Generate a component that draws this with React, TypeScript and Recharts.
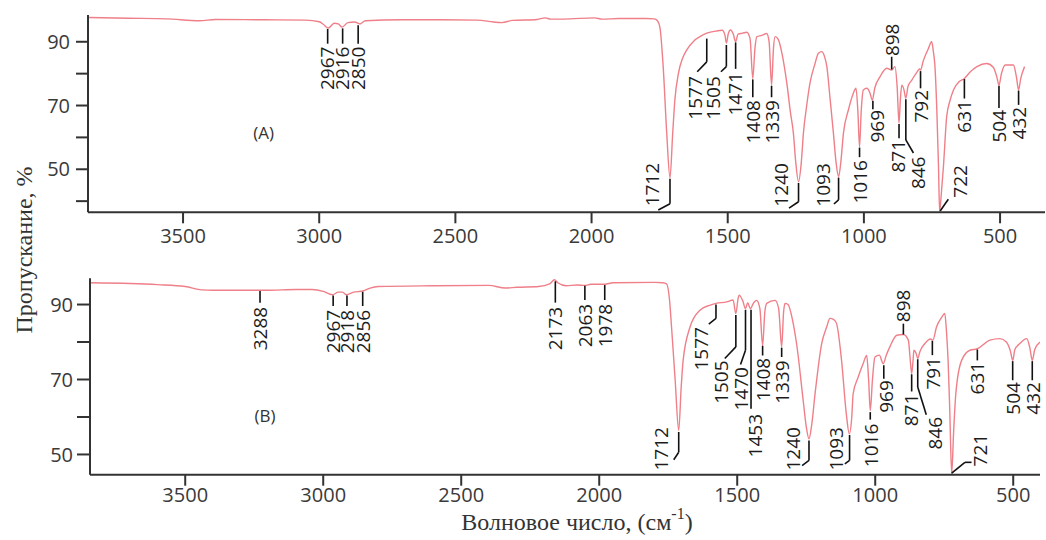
import React from 'react';
import { LineChart, Line, XAxis, YAxis, ReferenceLine, ReferenceDot } from 'recharts';

type Pt = [number, number];

// ---------- axis ticks ----------
const wavenumberTicks = [3500, 3000, 2500, 2000, 1500, 1000, 500];
const ticksA = [40, 50, 60, 70, 80, 90];
const ticksB = [50, 60, 70, 80, 90];
const labeledTicks = [50, 70, 90];

// ---------- spectrum (A): [wavenumber, transmittance %] ----------
const spectrumA: Pt[] = [
  [3845, 97.6], [3700, 97.4], [3560, 97.2], [3440, 96.6], [3380, 97.0], [3200, 96.9],
  [3050, 96.8], [3000, 96.3], [2985, 95.5], [2967, 94.3], [2945, 95.8], [2930, 95.6],
  [2916, 94.6], [2895, 96.0], [2870, 96.2], [2850, 95.6], [2830, 96.6], [2700, 96.9],
  [2550, 96.9], [2420, 96.8], [2360, 96.2], [2330, 96.0], [2290, 96.7], [2200, 97.0],
  [2170, 97.5], [2150, 97.1], [2080, 97.2], [1990, 97.5], [1960, 97.1], [1900, 97.3],
  [1800, 97.3], [1770, 97.2], [1758, 96.6], [1749, 94.5], [1737, 82.2], [1724, 61.4],
  [1712, 47.3], [1702, 61.4], [1694, 71.8], [1681, 80.1], [1665, 85.0], [1651, 87.4],
  [1625, 90.2], [1602, 91.6], [1577, 92.7], [1540, 93.4], [1520, 93.6], [1510, 92.0],
  [1505, 89.6], [1498, 92.5], [1490, 93.7], [1480, 92.5], [1471, 90.0], [1462, 92.4],
  [1445, 92.7], [1430, 93.0], [1418, 91.0], [1408, 78.5], [1400, 88.0], [1393, 91.6],
  [1375, 92.0], [1357, 92.6], [1348, 90.0], [1339, 76.4], [1332, 88.0], [1326, 91.6],
  [1315, 90.8], [1300, 86.0], [1283, 77.0], [1270, 68.0], [1259, 61.4], [1250, 52.0],
  [1240, 46.1], [1230, 52.0], [1222, 61.4], [1210, 70.0], [1198, 77.0], [1180, 83.0],
  [1167, 86.4], [1155, 86.9], [1145, 85.5], [1136, 82.2], [1124, 72.0], [1112, 61.4],
  [1102, 52.0], [1093, 47.7], [1085, 52.0], [1075, 61.4], [1057, 68.6], [1039, 73.8],
  [1029, 75.4], [1022, 68.0], [1016, 57.0], [1010, 68.0], [1002, 74.9], [989, 75.4],
  [978, 74.0], [969, 71.7], [960, 75.5], [941, 79.0], [916, 81.7], [898, 81.1],
  [886, 82.2], [878, 76.0], [871, 64.5], [866, 72.0], [861, 76.4], [853, 75.0],
  [846, 72.3], [838, 76.0], [824, 78.0], [805, 80.5], [795, 81.5], [792, 81.1],
  [782, 84.0], [765, 87.5], [751, 90.0], [745, 87.0], [739, 82.2], [732, 68.0],
  [726, 50.8], [722, 36.7], [716, 42.0], [708, 50.8], [696, 66.5], [684, 71.5],
  [671, 74.9], [650, 77.5], [631, 78.5], [610, 80.5], [585, 82.2], [549, 83.2],
  [525, 82.0], [512, 79.0], [504, 76.4], [495, 80.0], [481, 82.7], [451, 82.7],
  [440, 79.0], [432, 74.9], [424, 78.5], [410, 82.2],
];

// ---------- spectrum (B) ----------
const spectrumB: Pt[] = [
  [3845, 95.8], [3700, 95.6], [3600, 95.3], [3500, 94.8], [3440, 93.9], [3400, 93.8],
  [3300, 93.8], [3200, 93.8], [3100, 94.0], [3040, 94.0], [3000, 93.5], [2967, 92.6],
  [2945, 93.3], [2930, 93.3], [2916, 92.6], [2890, 93.3], [2856, 93.6], [2830, 94.4],
  [2800, 94.8], [2600, 95.0], [2400, 95.1], [2340, 94.4], [2300, 94.6], [2220, 94.8],
  [2180, 95.5], [2162, 96.6], [2150, 95.8], [2120, 95.0], [2080, 95.2], [2052, 95.1],
  [2030, 95.4], [1980, 95.4], [1950, 95.8], [1800, 95.9], [1770, 95.8], [1756, 95.5],
  [1745, 91.0], [1738, 84.0], [1725, 70.0], [1712, 56.4], [1703, 68.0], [1696, 75.1],
  [1671, 84.0], [1635, 88.5], [1600, 89.8], [1577, 90.3], [1538, 90.7], [1515, 91.2],
  [1505, 87.6], [1497, 91.5], [1493, 92.5], [1480, 91.0], [1470, 88.9], [1462, 90.5],
  [1453, 88.9], [1440, 90.5], [1430, 91.1], [1418, 89.0], [1408, 79.1], [1400, 88.0],
  [1393, 90.3], [1363, 91.1], [1350, 89.0], [1339, 78.7], [1332, 88.0], [1327, 90.3],
  [1316, 90.0], [1300, 86.0], [1285, 79.6], [1261, 64.4], [1250, 57.5], [1240, 54.2],
  [1230, 58.0], [1218, 66.2], [1194, 79.6], [1176, 84.0], [1164, 86.3], [1150, 86.0],
  [1140, 84.9], [1122, 75.1], [1105, 61.0], [1094, 55.5], [1085, 60.0], [1080, 66.2],
  [1062, 70.6], [1044, 74.2], [1031, 76.4], [1024, 70.0], [1018, 61.7], [1010, 70.0],
  [1001, 76.0], [985, 76.5], [971, 74.2], [960, 76.5], [947, 78.7], [922, 81.8],
  [898, 82.0], [880, 80.5], [874, 76.0], [868, 71.6], [863, 75.0], [860, 77.8],
  [852, 77.0], [846, 75.6], [838, 77.5], [820, 79.6], [800, 80.8], [791, 80.5],
  [778, 84.0], [760, 86.5], [748, 87.6], [742, 83.0], [736, 75.1], [730, 62.0],
  [723, 44.8], [716, 56.0], [708, 66.2], [687, 75.1], [657, 77.8], [630, 78.2],
  [584, 80.5], [548, 80.9], [525, 80.0], [510, 77.5], [502, 75.1], [494, 78.0],
  [476, 79.6], [451, 80.9], [440, 78.5], [431, 75.1], [422, 78.0], [403, 80.0],
];

// ---------- peak annotations: text anchor (tx, ty) and leader path, in data units ----------
interface Ann { label: string; tx: number; ty: number; above?: boolean; path: Pt[] }

const peaksA: Ann[] = [
  { label: '2967', tx: 2969, ty: 88.5, path: [[2969, 94.0], [2969, 89.4]] },
  { label: '2916', tx: 2914, ty: 88.5, path: [[2914, 94.2], [2914, 89.4]] },
  { label: '2850', tx: 2857, ty: 88.5, path: [[2857, 95.2], [2857, 89.4]] },
  { label: '1712', tx: 1779, ty: 52.0, path: [[1712, 47.0], [1712, 39.2], [1755, 37.2]] },
  { label: '1577', tx: 1620, ty: 79.2, path: [[1577, 91.0], [1577, 83.7], [1612, 80.6]] },
  { label: '1505', tx: 1553, ty: 79.2, path: [[1505, 89.0], [1505, 82.2], [1525, 80.6]] },
  { label: '1471', tx: 1473, ty: 80.5, path: [[1471, 89.8], [1471, 81.5]] },
  { label: '1408', tx: 1408, ty: 71.7, path: [[1408, 78.2], [1408, 72.6]] },
  { label: '1339', tx: 1338, ty: 71.7, path: [[1339, 76.2], [1339, 72.6]] },
  { label: '1240', tx: 1302, ty: 51.9, path: [[1240, 45.7], [1240, 39.8], [1275, 37.8]] },
  { label: '1093', tx: 1151, ty: 51.9, path: [[1093, 47.4], [1093, 40.4], [1110, 39.1]] },
  { label: '1016', tx: 1014, ty: 52.9, path: [[1016, 56.8], [1016, 53.8]] },
  { label: '969', tx: 950, ty: 68.6, path: [[967, 71.5], [967, 68.8]] },
  { label: '898', tx: 898, ty: 85.5, above: true, path: [[898, 81.3], [898, 85.3]] },
  { label: '871', tx: 875, ty: 59.2, path: [[871, 64.2], [871, 59.7]] },
  { label: '846', tx: 800, ty: 54.0, path: [[846, 72.0], [846, 59.2], [818, 55.1]] },
  { label: '792', tx: 788, ty: 74.9, path: [[792, 80.8], [792, 75.4]] },
  { label: '722', tx: 648, ty: 51.3, path: [[720, 36.9], [690, 40.6]] },
  { label: '631', tx: 631, ty: 71.7, path: [[631, 78.3], [631, 72.2]] },
  { label: '504', tx: 502, ty: 68.6, path: [[504, 76.2], [504, 69.2]] },
  { label: '432', tx: 429, ty: 69.6, path: [[432, 74.7], [432, 70.2]] },
];

const peaksB: Ann[] = [
  { label: '3288', tx: 3229, ty: 89.4, path: [[3229, 93.6], [3229, 90.5]] },
  { label: '2967', tx: 2964, ty: 88.6, path: [[2964, 92.4], [2964, 89.6]] },
  { label: '2918', tx: 2914, ty: 88.6, path: [[2914, 92.4], [2914, 89.6]] },
  { label: '2856', tx: 2857, ty: 88.6, path: [[2857, 93.4], [2857, 89.6]] },
  { label: '2173', tx: 2159, ty: 89.4, path: [[2159, 96.2], [2159, 90.5]] },
  { label: '2063', tx: 2052, ty: 90.2, path: [[2052, 95.0], [2052, 91.2]] },
  { label: '1978', tx: 1980, ty: 90.2, path: [[1980, 95.2], [1980, 91.2]] },
  { label: '1712', tx: 1774, ty: 57.3, path: [[1712, 56.0], [1712, 50.6], [1730, 48.6]] },
  { label: '1577', tx: 1629, ty: 84.0, path: [[1577, 90.0], [1577, 86.3], [1603, 84.8]] },
  { label: '1505', tx: 1557, ty: 75.1, path: [[1505, 87.2], [1505, 78.7], [1545, 75.6]] },
  { label: '1470', tx: 1484, ty: 73.3, path: [[1470, 88.6], [1470, 77.8], [1488, 74.0]] },
  { label: '1453', tx: 1436, ty: 60.8, path: [[1450, 88.6], [1450, 62.2]] },
  { label: '1408', tx: 1406, ty: 75.8, path: [[1408, 79.0], [1408, 76.4]] },
  { label: '1339', tx: 1336, ty: 75.1, path: [[1339, 78.5], [1339, 76.0]] },
  { label: '1240', tx: 1297, ty: 57.3, path: [[1240, 53.7], [1240, 48.4], [1265, 47.0]] },
  { label: '1093', tx: 1140, ty: 57.3, path: [[1093, 55.2], [1093, 48.4], [1110, 47.5]] },
  { label: '1016', tx: 1013, ty: 58.2, path: [[1018, 61.3], [1018, 59.3]] },
  { label: '969', tx: 961, ty: 69.8, path: [[969, 73.8], [969, 70.2]] },
  { label: '898', tx: 899, ty: 85.3, above: true, path: [[898, 82.0], [898, 84.9]] },
  { label: '871', tx: 868, ty: 66.2, path: [[868, 71.4], [868, 66.8]] },
  { label: '846', tx: 784, ty: 60.0, path: [[846, 75.4], [846, 68.0], [815, 60.6]] },
  { label: '791', tx: 790, ty: 76.0, path: [[793, 80.3], [793, 76.5]] },
  { label: '721', tx: 621, ty: 55.5, path: [[723, 45.0], [675, 47.9], [651, 47.9]] },
  { label: '631', tx: 630, ty: 74.7, path: [[630, 78.0], [630, 75.1]] },
  { label: '504', tx: 502, ty: 69.3, path: [[502, 74.9], [502, 69.8]] },
  { label: '432', tx: 428, ty: 69.3, path: [[431, 74.9], [431, 69.8]] },
];

const panelTags = ['(A)', '(B)'];
const tagPosA: Pt = [3204, 61.4];
const tagPosB: Pt = [3211, 60.3];

const xTitle = 'Волновое число, (см';
const xTitleSup = '-1';
const yTitle = 'Пропускание, %';

// ---------- styles ----------
const AXIS = '#333333';
const LINE = '#ef7f88';
const SANS = "'Open Sans', 'DejaVu Sans', sans-serif";
const SERIF = "'Liberation Serif', 'DejaVu Serif', serif";

const makeRotLabel = (label: string, above?: boolean) => (props: any) => {
  const { cx, cy } = props;
  if (cx == null || cy == null) return <g />;
  return (
    <text
      x={cx}
      y={cy}
      transform={`rotate(-90 ${cx} ${cy})`}
      textAnchor={above ? 'start' : 'end'}
      dy="0.36em"
      fontSize={19}
      fontFamily={SANS}
      fill="#1c1c1c"
    >
      {label}
    </text>
  );
};

const makeTag = (label: string) => (props: any) => {
  const { cx, cy } = props;
  if (cx == null || cy == null) return <g />;
  return (
    <text x={cx} y={cy} textAnchor="middle" dy="0.35em" fontSize={17} fontFamily={SANS} fill="#333">
      {label}
    </text>
  );
};

interface PanelProps {
  data: Pt[];
  peaks: Ann[];
  xDomain: [number, number];
  yDomain: [number, number];
  yTicks: number[];
  tag: string;
  tagPos: Pt;
  top: number;
  height: number;
  margin: { top: number; right: number; left: number; bottom: number };
  yAxisWidth: number;
  xAxisHeight: number;
  xTickMargin: number;
  yTickSize: number;
  yTickMargin: number;
}

function Panel(p: PanelProps) {
  const rows = p.data.map(([w, t]) => ({ w, t }));
  const segs: React.ReactNode[] = [];
  p.peaks.forEach((a, i) => {
    for (let k = 0; k < a.path.length - 1; k++) {
      const [x1, y1] = a.path[k];
      const [x2, y2] = a.path[k + 1];
      segs.push(
        <ReferenceLine
          key={`s${i}-${k}`}
          segment={[{ x: x1, y: y1 }, { x: x2, y: y2 }]}
          stroke="#111"
          strokeWidth={1.6}
          ifOverflow="visible"
        />
      );
    }
  });
  const labels = p.peaks.map((a, i) => (
    <ReferenceDot
      key={`l${i}`}
      x={a.tx}
      y={a.ty}
      r={1}
      ifOverflow="visible"
      shape={makeRotLabel(a.label, a.above)}
    />
  ));
  return (
    <div style={{ position: 'absolute', left: 0, top: p.top }}>
      <LineChart width={1046} height={p.height} data={rows} margin={p.margin}>
        <XAxis
          dataKey="w"
          type="number"
          domain={p.xDomain}
          reversed
          allowDataOverflow
          ticks={wavenumberTicks}
          interval={0}
          height={p.xAxisHeight}
          tickSize={11}
          tickMargin={p.xTickMargin}
          axisLine={{ stroke: AXIS, strokeWidth: 2 }}
          tickLine={{ stroke: AXIS, strokeWidth: 2 }}
          tick={{ fill: '#3a3a3a', fontSize: 20, fontFamily: SANS }}
        />
        <YAxis
          type="number"
          domain={p.yDomain}
          allowDataOverflow
          ticks={p.yTicks}
          interval={0}
          width={p.yAxisWidth}
          tickSize={p.yTickSize}
          tickMargin={p.yTickMargin}
          tickFormatter={(v: number) => (labeledTicks.includes(v) ? String(v) : '')}
          axisLine={{ stroke: AXIS, strokeWidth: 2 }}
          tickLine={{ stroke: AXIS, strokeWidth: 2 }}
          tick={{ fill: '#3a3a3a', fontSize: 20, fontFamily: SANS }}
        />
        <Line
          dataKey="t"
          type="monotone"
          stroke={LINE}
          strokeWidth={1.4}
          dot={false}
          activeDot={false}
          isAnimationActive={false}
        />
        {segs}
        {labels}
        <ReferenceDot x={p.tagPos[0]} y={p.tagPos[1]} r={1} ifOverflow="visible" shape={makeTag(p.tag)} />
      </LineChart>
    </div>
  );
}

export default function App() {
  return (
    <div style={{ position: 'absolute', left: 0, top: 0, width: 1046, height: 540, background: '#fff', overflow: 'hidden' }}>
      <Panel
        data={spectrumA}
        peaks={peaksA}
        xDomain={[335, 3849]}
        yDomain={[36.5, 98.4]}
        yTicks={ticksA}
        tag={panelTags[0]}
        tagPos={tagPosA}
        top={0}
        height={250}
        margin={{ top: 15, right: 1, left: 0, bottom: 0 }}
        yAxisWidth={88}
        xAxisHeight={37.7}
        xTickMargin={5}
        yTickSize={12}
        yTickMargin={6}
      />
      <Panel
        data={spectrumB}
        peaks={peaksB}
        xDomain={[403, 3845]}
        yDomain={[44.6, 97]}
        yTicks={ticksB}
        tag={panelTags[1]}
        tagPos={tagPosB}
        top={250}
        height={290}
        margin={{ top: 28.3, right: 6, left: 0, bottom: 0 }}
        yAxisWidth={90}
        xAxisHeight={65.3}
        xTickMargin={2}
        yTickSize={13}
        yTickMargin={4}
      />
      <svg width={1046} height={540} style={{ position: 'absolute', left: 0, top: 0, pointerEvents: 'none' }}>
        <text
          x={24}
          y={250}
          transform="rotate(-90 24 250)"
          textAnchor="middle"
          dy="0.35em"
          fontSize={24}
          fontFamily={SERIF}
          fill="#333"
        >
          {yTitle}
        </text>
        <text x={577} y={530} textAnchor="middle" fontSize={24} fontFamily={SERIF} fill="#333">
          {xTitle}
          <tspan dy={-11} fontSize={16}>{xTitleSup}</tspan>
          <tspan dy={11}>)</tspan>
        </text>
      </svg>
    </div>
  );
}
